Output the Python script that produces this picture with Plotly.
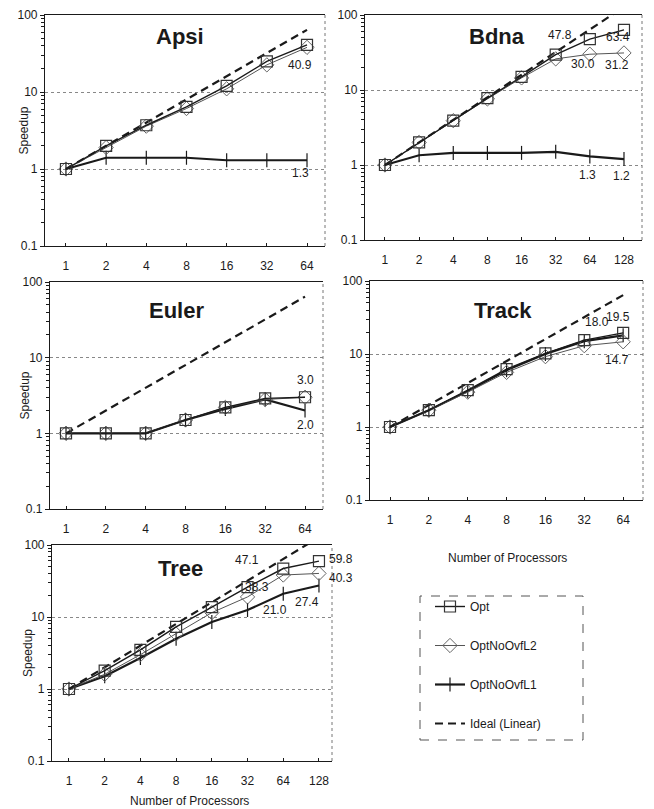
import math
import plotly.graph_objects as go

# ---------------- data ----------------
procs64 = [1, 2, 4, 8, 16, 32, 64]
procs128 = [1, 2, 4, 8, 16, 32, 64, 128]

apsi_opt = [1.0, 2.0, 3.7, 6.4, 12.0, 25.0, 40.9]
apsi_l2 = [1.0, 1.9, 3.6, 6.1, 11.0, 22.5, 38.0]
apsi_l1 = [1.0, 1.4, 1.4, 1.4, 1.3, 1.3, 1.3]

bdna_opt = [1.0, 2.0, 3.9, 7.8, 15.0, 29.6, 47.8, 63.4]
bdna_l2 = [1.0, 2.0, 3.9, 7.6, 14.5, 26.0, 30.0, 31.2]
bdna_l1 = [1.0, 1.35, 1.45, 1.45, 1.45, 1.5, 1.3, 1.2]

euler_opt = [1.0, 1.0, 1.0, 1.5, 2.2, 2.9, 3.0]
euler_l2 = [1.0, 1.0, 1.0, 1.5, 2.2, 2.8, 3.0]
euler_l1 = [1.0, 1.0, 1.0, 1.5, 2.1, 2.8, 2.0]

track_opt = [1.0, 1.7, 3.2, 6.2, 10.2, 15.5, 19.5]
track_l2 = [1.0, 1.7, 3.0, 5.6, 9.2, 13.0, 14.7]
track_l1 = [1.0, 1.7, 3.1, 6.0, 10.0, 15.0, 18.0]

tree_opt = [1.0, 1.8, 3.5, 7.3, 13.7, 26.0, 47.1, 59.8]
tree_l2 = [1.0, 1.6, 3.0, 5.8, 11.5, 19.0, 38.3, 40.3]
tree_l1 = [1.0, 1.5, 2.7, 5.0, 8.5, 12.5, 21.0, 27.4]

series_names = ["Opt", "OptNoOvfL2", "OptNoOvfL1", "Ideal (Linear)"]
y_ticks = [0.1, 1, 10, 100]
y_ticktext = ["0.1", "1", "10", "100"]

# the page body has an 8px default margin: the figure is drawn from (8, 8)
OFF = 8
W, H = 654 - OFF, 809 - OFF
FONT = "Liberation Sans, Arial, sans-serif"
INK = "#1a1a1a"


def px(x):
    return (x - OFF) / W


def py(y):
    return 1 - (y - OFF) / H


panels = [
    dict(name="Apsi", x=procs64, opt=apsi_opt, l2=apsi_l2, l1=apsi_l1,
         box=(45, 325, 15, 246), xr=(-0.157, 1.941), ylab=23, xlab=None,
         title=(180, 37),
         labels=[("opt", 6, -7, -20), ("l1", 6, -7, -13)]),
    dict(name="Bdna", x=procs128, opt=bdna_opt, l2=bdna_l2, l1=bdna_l1,
         box=(365, 642, 15, 240), xr=(-0.176, 2.266), ylab=None, xlab=None,
         title=(497, 37),
         labels=[("opt", 6, -30, 4), ("opt", 7, -6, -7), ("l2", 6, -7, -10),
                 ("l2", 7, -7, -12), ("l1", 6, -2, -19), ("l1", 7, -2, -17)]),
    dict(name="Euler", x=procs64, opt=euler_opt, l2=euler_l2, l1=euler_l1,
         box=(50, 323, 282, 509), xr=(-0.121, 1.942), ylab=25, xlab=None,
         title=(176, 310),
         labels=[("opt", 6, 0, 17), ("l1", 6, 0, -14)]),
    dict(name="Track", x=procs64, opt=track_opt, l2=track_l2, l1=track_l1,
         box=(370, 643, 281, 500), xr=(-0.155, 1.96), ylab=None, xlab=(507, 558),
         title=(503, 310),
         labels=[("opt", 6, -5, 16), ("l1", 6, -26, 13), ("l2", 6, -6, -18)]),
    dict(name="Tree", x=procs128, opt=tree_opt, l2=tree_l2, l1=tree_l1,
         box=(52, 332, 545, 761), xr=(-0.143, 2.217), ylab=28, xlab=(190, 801),
         title=(180, 568),
         labels=[("opt", 6, -36, 9), ("opt", 7, 22, 2), ("l2", 6, -26, -12),
                 ("l2", 7, 22, -5), ("l1", 6, -8, -16), ("l1", 7, -12, -17)]),
]

fig = go.Figure()
annotations = []
shapes = []
layout_axes = {}

minor_vals = [m * 10 ** e for e in (-1, 0, 1) for m in range(2, 10)]
NP = len(panels)

for i, p in enumerate(panels):
    n = i + 1
    xa = "x" if n == 1 else f"x{n}"
    ya = "y" if n == 1 else f"y{n}"
    l, r, t, b = p["box"]
    first = (i == 0)

    fig.add_trace(go.Scatter(
        x=p["x"], y=p["x"], mode="lines", name=series_names[3],
        line=dict(color=INK, width=2.2, dash="8px,5px"),
        xaxis=xa, yaxis=ya, showlegend=first, legendgroup="d", legendrank=4))
    fig.add_trace(go.Scatter(
        x=p["x"], y=p["l1"], mode="lines+markers", name=series_names[2],
        line=dict(color=INK, width=2.2),
        marker=dict(symbol="line-ns", size=10, line=dict(color=INK, width=1.2)),
        xaxis=xa, yaxis=ya, showlegend=first, legendgroup="c", legendrank=3))
    fig.add_trace(go.Scatter(
        x=p["x"], y=p["l2"], mode="lines+markers", name=series_names[1],
        line=dict(color="#555555", width=1),
        marker=dict(symbol="diamond-open", size=11, color="#666666",
                    line=dict(width=1)),
        xaxis=xa, yaxis=ya, showlegend=first, legendgroup="b", legendrank=2))
    fig.add_trace(go.Scatter(
        x=p["x"], y=p["opt"], mode="lines+markers", name=series_names[0],
        line=dict(color=INK, width=1.4),
        marker=dict(symbol="square-open", size=11, color="#333333",
                    line=dict(width=1.2)),
        xaxis=xa, yaxis=ya, showlegend=first, legendgroup="a", legendrank=1))

    xkey = "xaxis" if n == 1 else f"xaxis{n}"
    ykey = "yaxis" if n == 1 else f"yaxis{n}"
    layout_axes[xkey] = dict(
        type="log", domain=[px(l), px(r)], anchor=ya, range=list(p["xr"]),
        automargin=False,
        tickvals=p["x"], ticktext=[str(v) for v in p["x"]],
        showgrid=False, zeroline=False, showline=True, mirror=True,
        linecolor=INK, linewidth=1.3, ticks="inside", ticklen=3,
        tickcolor=INK, ticklabelstandoff=8, ticklabeloverflow="allow",
        tickfont=dict(family=FONT, size=12, color=INK))
    layout_axes[ykey] = dict(
        type="log", domain=[py(b), py(t)], anchor=xa, range=[-1, 2],
        automargin=False,
        tickvals=y_ticks, ticktext=y_ticktext,
        showgrid=True, gridcolor="#888888", griddash="dot", gridwidth=1,
        zeroline=False, showline=True, linecolor=INK, linewidth=1.2,
        ticks="outside", ticklen=4, tickcolor=INK,
        minor=dict(tickvals=minor_vals, ticks="outside", ticklen=3,
                   tickcolor=INK, showgrid=False),
        ticklabeloverflow="allow",
        tickfont=dict(family=FONT, size=12, color=INK))
    okey = f"yaxis{n + NP}"
    layout_axes[okey] = dict(
        type="log", overlaying=ya, anchor=xa, side="left", range=[-1, 2],
        automargin=False, tickvals=y_ticks, showticklabels=False,
        showgrid=False, zeroline=False, showline=False,
        ticks="inside", ticklen=4, tickcolor=INK,
        minor=dict(tickvals=minor_vals, ticks="inside", ticklen=3,
                   tickcolor=INK, showgrid=False))

    shapes.append(dict(type="line", xref=f"{xa} domain", yref=f"{ya} domain",
                       x0=1, x1=1, y0=0, y1=1,
                       line=dict(color="#777777", width=1, dash="dot")))

    tx, ty = p["title"]
    annotations.append(dict(text=f"<b>{p['name']}</b>", x=px(tx), y=py(ty),
                            xref="paper", yref="paper", showarrow=False,
                            xanchor="center", yanchor="middle",
                            font=dict(family=FONT, size=22, color=INK)))
    if p["ylab"] is not None:
        annotations.append(dict(text="Speedup", x=px(p["ylab"]), y=0.5,
                                xref="paper", yref=f"{ya} domain",
                                xanchor="center", yanchor="middle",
                                textangle=-90, showarrow=False,
                                font=dict(family=FONT, size=12, color=INK)))
    if p["xlab"] is not None:
        lx, ly = p["xlab"]
        annotations.append(dict(text="Number of Processors", x=px(lx),
                                y=py(ly), xref="paper", yref="paper",
                                xanchor="center", yanchor="middle",
                                showarrow=False,
                                font=dict(family=FONT, size=12, color=INK)))
    for key, idx, dx, dy in p["labels"]:
        val = p[key][idx]
        annotations.append(dict(text=f"{val:.1f}", x=math.log10(p["x"][idx]),
                                y=math.log10(val), xref=xa, yref=ya,
                                xanchor="center", yanchor="middle",
                                xshift=dx, yshift=dy, showarrow=False,
                                font=dict(family=FONT, size=12, color=INK)))

shapes.append(dict(type="rect", xref="paper", yref="paper",
                   x0=px(420), x1=px(583), y0=py(740), y1=py(596),
                   line=dict(color="#555555", width=1, dash="dash")))

fig.update_layout(
    width=W, height=H, margin=dict(l=0, r=0, t=0, b=0, autoexpand=False),
    paper_bgcolor="white", plot_bgcolor="white",
    font=dict(family=FONT, size=12, color=INK),
    showlegend=True,
    legend=dict(x=px(430), y=py(592), xanchor="left", yanchor="top",
                traceorder="grouped", tracegroupgap=20,
                bgcolor="rgba(0,0,0,0)", borderwidth=0,
                font=dict(family=FONT, size=12, color=INK),
                itemwidth=30),
    annotations=annotations, shapes=shapes,
    **layout_axes,
)

fig.write_html("out.html")
